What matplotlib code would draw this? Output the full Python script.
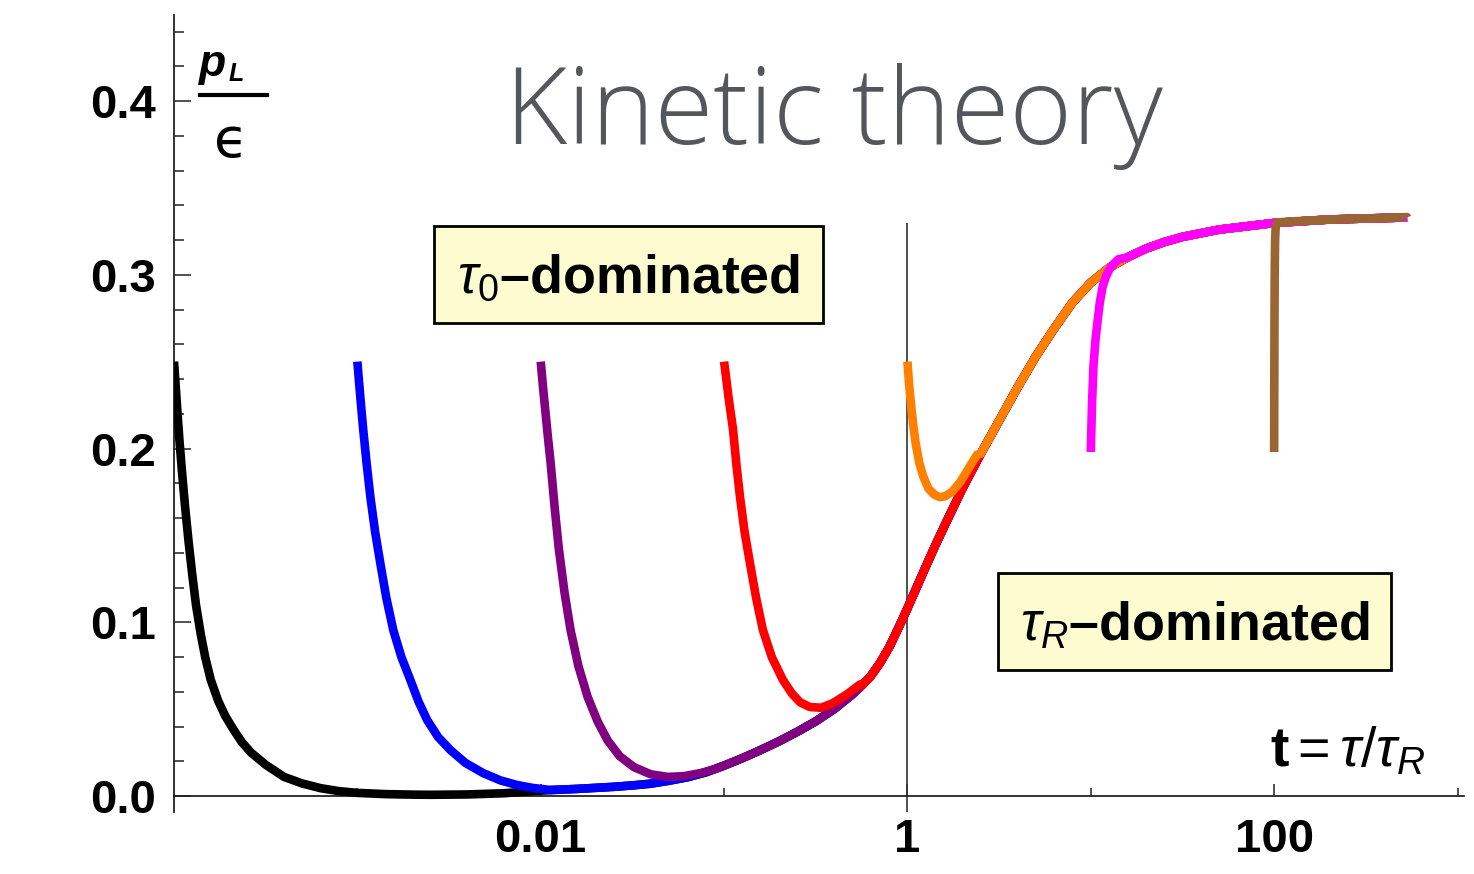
import numpy as np
import matplotlib
matplotlib.use("Agg")
import matplotlib.pyplot as plt
from matplotlib.patches import Rectangle
from matplotlib.lines import Line2D

# attractor shared by all runs (t = tau/tau_R, p_L/eps)
ATTR_T = [0.002512, 0.003981, 0.006310, 0.01, 0.01585, 0.02512, 0.03162, 0.03981, 0.05012,
          0.06310, 0.07943, 0.1, 0.1259, 0.1585, 0.1995, 0.2512, 0.3162, 0.3981, 0.5012,
          0.5623, 0.6310, 0.7079, 0.7943, 0.8913, 1.0, 1.122, 1.259, 1.413, 1.585, 1.995,
          2.512, 3.162, 3.981, 5.012, 6.310, 7.943, 10.0, 12.59, 15.85, 19.95, 25.12,
          31.62, 50.12, 100.0, 199.5, 530.9]
ATTR_P = [0.0007, 0.0009, 0.0016, 0.0031, 0.0041, 0.0053, 0.0061, 0.0071, 0.0088,
          0.0108, 0.0136, 0.0175, 0.0218, 0.0265, 0.0315, 0.037, 0.043, 0.050, 0.0585,
          0.0635, 0.069, 0.0765, 0.0855, 0.0965, 0.108, 0.120, 0.132, 0.1438, 0.155, 0.177,
          0.197, 0.216, 0.235, 0.253, 0.269, 0.284, 0.2955, 0.304, 0.310, 0.315, 0.3188,
          0.3218, 0.326, 0.3298, 0.3318, 0.3330]

# early-time part of each run, before it falls onto the attractor
BLACK_T = [1.000e-4, 1.023e-4, 1.047e-4, 1.072e-4, 1.109e-4, 1.148e-4, 1.202e-4, 1.259e-4,
           1.318e-4, 1.400e-4, 1.479e-4, 1.585e-4, 1.738e-4, 1.905e-4, 2.118e-4, 2.344e-4,
           2.630e-4, 3.162e-4, 3.981e-4, 5.012e-4, 6.310e-4, 7.943e-4, 1.0e-3, 1.413e-3,
           1.995e-3]
BLACK_P = [0.25, 0.235, 0.219, 0.204, 0.185, 0.167, 0.146, 0.127,
           0.11, 0.093, 0.08, 0.067, 0.055, 0.046, 0.038, 0.031,
           0.025, 0.018, 0.011, 0.0072, 0.0045, 0.0028, 0.0018, 0.0011,
           0.0008]

BLUE_T = [1.000e-3, 1.035e-3, 1.076e-3, 1.122e-3, 1.178e-3, 1.250e-3, 1.334e-3, 1.439e-3,
          1.570e-3, 1.738e-3, 1.945e-3, 2.163e-3, 2.404e-3, 2.754e-3, 3.214e-3, 3.890e-3,
          4.853e-3, 6.026e-3, 7.447e-3, 9.120e-3, 1.125e-2]
BLUE_P = [0.25, 0.231, 0.211, 0.192, 0.172, 0.152, 0.134, 0.114,
          0.0955, 0.08, 0.0668, 0.054, 0.0437, 0.034, 0.0265, 0.019,
          0.0132, 0.009, 0.0063, 0.0046, 0.0035]

PURPLE_T = [0.01, 0.01028, 0.01059, 0.01096, 0.01132, 0.01189, 0.01253, 0.01349, 0.01455,
            0.01603, 0.01803, 0.02042, 0.02317, 0.02692, 0.03214, 0.03981, 0.04920,
            0.06026, 0.07447, 0.08913]
PURPLE_P = [0.25, 0.236, 0.222, 0.206, 0.192, 0.167, 0.143, 0.117, 0.0955,
            0.075, 0.057, 0.043, 0.032, 0.023, 0.0167, 0.0125, 0.011,
            0.0114, 0.0132, 0.0155]

RED_T = [0.1, 0.1028, 0.1059, 0.1119, 0.1167, 0.1222, 0.1294, 0.1384, 0.1496, 0.1629,
         0.1820, 0.2094, 0.2344, 0.2594, 0.2938, 0.3388, 0.3926, 0.4677, 0.5508]
RED_P = [0.25, 0.24, 0.229, 0.211, 0.191, 0.172, 0.152, 0.134, 0.114, 0.0955,
         0.08, 0.0668, 0.059, 0.054, 0.0512, 0.0508, 0.0535, 0.0585, 0.0642]

ORANGE_T = [1.0, 1.021, 1.045, 1.074, 1.109, 1.159, 1.219, 1.300, 1.400, 1.500, 1.600,
            1.750, 1.950, 2.198, 2.399]
ORANGE_P = [0.25, 0.237, 0.226, 0.214, 0.203, 0.192, 0.184, 0.177, 0.1735, 0.172,
            0.1725, 0.175, 0.181, 0.19, 0.1965]

MAGENTA_T = [10.0, 10.15, 10.35, 10.6, 10.85, 11.2, 11.6, 12.1, 12.7, 13.4, 14.2]
MAGENTA_P = [0.198, 0.225, 0.248, 0.262, 0.272, 0.284, 0.293, 0.299, 0.3035, 0.3065, 0.309]

BROWN_T = [100.0, 100.3, 100.7, 101.2, 102.0, 104.0, 110.0, 130.0, 170.0, 250.0, 380.0, 530.0]
BROWN_P = [0.198, 0.26, 0.30, 0.32, 0.328, 0.3300, 0.3303, 0.3308, 0.3314, 0.3321, 0.3327, 0.3332]

RUNS = [
    (BLACK_T, BLACK_P, "black"),
    (BLUE_T, BLUE_P, "#0000ff"),
    (PURPLE_T, PURPLE_P, "#800080"),
    (RED_T, RED_P, "#ff0000"),
    (ORANGE_T, ORANGE_P, "#ff8000"),
    (MAGENTA_T, MAGENTA_P, "#ff00ff"),
    (BROWN_T, BROWN_P, "#996633"),
]

YTICKS = [0.0, 0.1, 0.2, 0.3, 0.4]
XTICKS = [1e-2, 1.0, 1e2]
XTICK_LABELS = ["0.01", "1", "100"]
XMINOR = [1e-3, 1e-1, 1e1, 1e3]

W, H = 1474, 874


def fx(px):
    return px / W


def fy(py):
    return 1 - py / H


plt.rcParams["mathtext.fontset"] = "custom"
plt.rcParams["mathtext.rm"] = "Liberation Sans"
plt.rcParams["mathtext.it"] = "Liberation Sans:italic"
plt.rcParams["mathtext.bf"] = "Liberation Sans:bold"

fig = plt.figure(figsize=(W / 100, H / 100), dpi=100)
fig.patch.set_facecolor("white")
ax = fig.add_axes([fx(174), 1 - 812 / H, 1290 / W, 797 / H])
ax.set_xscale("log")
ax.set_xlim(1e-4, 1.085e3)
ax.set_ylim(-0.0092, 0.4495)

for t, p, col in RUNS:
    tt = list(t) + [a for a in ATTR_T if a > t[-1]]
    pp = list(p) + [b for a, b in zip(ATTR_T, ATTR_P) if a > t[-1]]
    ax.plot(tt, pp, color=col, lw=6.2, solid_capstyle="butt", solid_joinstyle="round",
            zorder=3)

ax.vlines(1.0, -0.0092, 0.330, color="#333333", lw=1.2, zorder=2)

for s in ("top", "right"):
    ax.spines[s].set_visible(False)
ax.spines["bottom"].set_position(("data", 0))
for s in ("left", "bottom"):
    ax.spines[s].set_linewidth(1.3)
    ax.spines[s].set_color("#222222")

ax.set_yticks(YTICKS, [f"{v:.1f}" for v in YTICKS])
ax.set_yticks([v for v in np.arange(0.02, 0.45, 0.02) if abs(v * 10 - round(v * 10)) > 1e-6],
              minor=True)
ax.set_xticks(XTICKS, XTICK_LABELS)
ax.set_xticks(XMINOR, minor=True)
ax.xaxis.set_minor_formatter(plt.NullFormatter())

ax.tick_params(axis="both", which="both", direction="in", color="#222222", width=1.1)
ax.tick_params(axis="y", which="major", length=12, pad=13)
ax.tick_params(axis="y", which="minor", length=7)
ax.tick_params(axis="x", which="major", length=9, pad=16)
ax.tick_params(axis="x", which="minor", length=5.5)
for lab in ax.get_xticklabels() + ax.get_yticklabels():
    lab.set_fontfamily("Liberation Sans")
    lab.set_fontweight("bold")
    lab.set_fontsize(34)

# y label as a stacked fraction p_L / epsilon
fig.text(fx(199), fy(76), "p", fontsize=32, fontweight="bold", fontstyle="italic",
         family="Liberation Sans", va="baseline", ha="left")
fig.text(fx(229), fy(81), "L", fontsize=18, fontweight="bold", fontstyle="italic",
         family="Liberation Sans", va="baseline", ha="left")
fig.add_artist(Line2D([fx(200), fx(267)], [fy(95), fy(95)], color="black", lw=3,
                      transform=fig.transFigure))
fig.text(fx(231), fy(157), "\u03f5", fontsize=40, family="DejaVu Sans",
         va="baseline", ha="center")

fig.text(fx(1270), fy(766), r"$\mathbf{t}=\tau/\tau_R$", fontsize=40,
         va="baseline", ha="left")

# regime boxes
for (x0, y0, x1, y1), label in [((434, 226, 823, 323), r"$\tau_0$" + "\u2013dominated"),
                                 ((998, 573, 1391, 670), r"$\tau_R$" + "\u2013dominated")]:
    fig.add_artist(Rectangle((fx(x0), fy(y1)), fx(x1 - x0), (y1 - y0) / H,
                             facecolor="#fcfcd0", edgecolor="black", lw=2,
                             transform=fig.transFigure, zorder=5))
    fig.text(fx((x0 + x1) / 2), fy((y0 + y1) / 2 + 4), label, fontsize=38.8,
             fontweight="bold", family="Liberation Sans", ha="center", va="center",
             zorder=6)

fig.text(fx(505), fy(144), "Kinetic theory", fontsize=77, fontweight="light",
         family="Open Sans", color="#53575c", va="baseline", ha="left")

fig.savefig("out.png", dpi=100)
